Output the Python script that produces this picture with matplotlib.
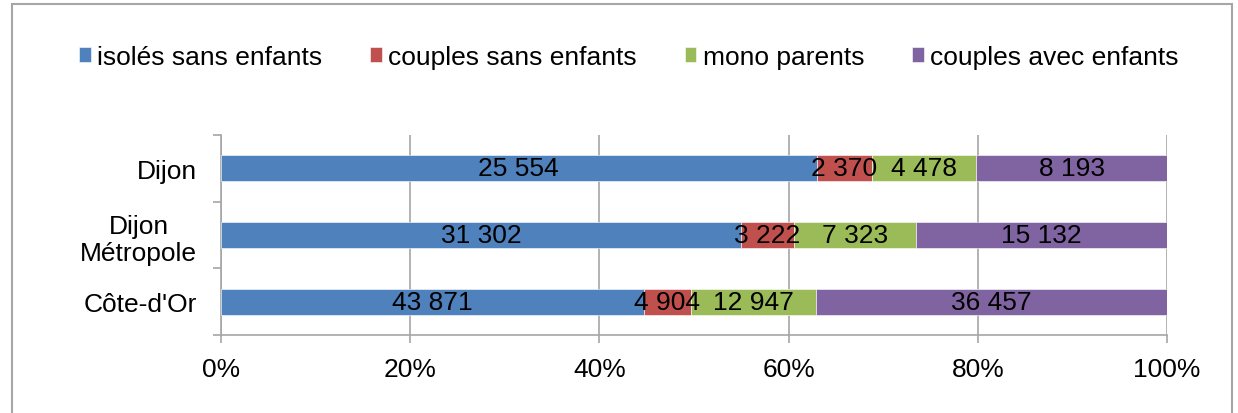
import matplotlib.pyplot as plt
from matplotlib.patches import Rectangle
import numpy as np

plt.rcParams['font.family'] = ['Liberation Sans', 'DejaVu Sans']

# données
territoires = ["Dijon", "Dijon\nMétropole", "Côte-d'Or"]
series = ["isolés sans enfants", "couples sans enfants", "mono parents", "couples avec enfants"]
isoles = [25554, 31302, 43871]
couples_sans = [2370, 3222, 4904]
mono = [4478, 7323, 12947]
couples_avec = [8193, 15132, 36457]
couleurs = ["#4F81BD", "#C0504D", "#9BBB59", "#8064A2"]
x_ticks = [0, 20, 40, 60, 80, 100]

FS = 19


def fmt(v):
    return f"{v:,}".replace(",", " ")


fig = plt.figure(figsize=(12.38, 4.14), dpi=100)
ax = fig.add_axes([0.1785, 0.1884, 0.9427 - 0.1785, 0.6715 - 0.1884])

# cadre extérieur
fig.patches.append(Rectangle((12 / 1238, -0.05), 1220 / 1238, 1 - 5 / 414 + 0.05,
                             transform=fig.transFigure, fill=False,
                             edgecolor="#a6a6a6", linewidth=1.5))

valeurs = np.array([isoles, couples_sans, mono, couples_avec], dtype=float)
totaux = valeurs.sum(axis=0)
parts = valeurs / totaux * 100
y = np.arange(len(territoires))

gauche = np.zeros(len(territoires))
for i, nom in enumerate(series):
    ax.barh(y, parts[i], left=gauche, height=0.39, color=couleurs[i],
            edgecolor="white", linewidth=0.4, label=nom, zorder=3)
    for j in range(len(territoires)):
        ax.text(gauche[j] + parts[i][j] / 2, y[j], fmt(int(valeurs[i][j])),
                ha="center", va="center", fontsize=FS, color="black", zorder=4)
    gauche += parts[i]

ax.set_xlim(0, 100)
ax.set_ylim(len(territoires) - 0.5, -0.5)
ax.set_xticks(x_ticks)
ax.set_xticklabels([f"{t}%" for t in x_ticks], fontsize=FS)
ax.set_yticks(y)
ax.set_yticklabels(territoires, fontsize=FS, multialignment="center")
ax.set_yticks(np.arange(len(territoires) + 1) - 0.5, minor=True)

ax.grid(axis="x", color="#a6a6a6", linewidth=1.2, zorder=0)
for s in ["top", "right"]:
    ax.spines[s].set_visible(False)
for s in ["left", "bottom"]:
    ax.spines[s].set_color("#a6a6a6")
    ax.spines[s].set_linewidth(1.2)

ax.tick_params(axis="y", which="major", length=0, pad=17)
ax.tick_params(axis="y", which="minor", length=6, color="#a6a6a6", width=1.2)
ax.tick_params(axis="x", length=6, color="#a6a6a6", width=1.2, pad=10)

fig.legend(loc="center", bbox_to_anchor=(0.508, 0.86), ncol=4, frameon=False,
           fontsize=FS, handlelength=0.45, handleheight=0.45, handletextpad=0.25,
           columnspacing=1.8)

fig.savefig("out.png", dpi=100)
